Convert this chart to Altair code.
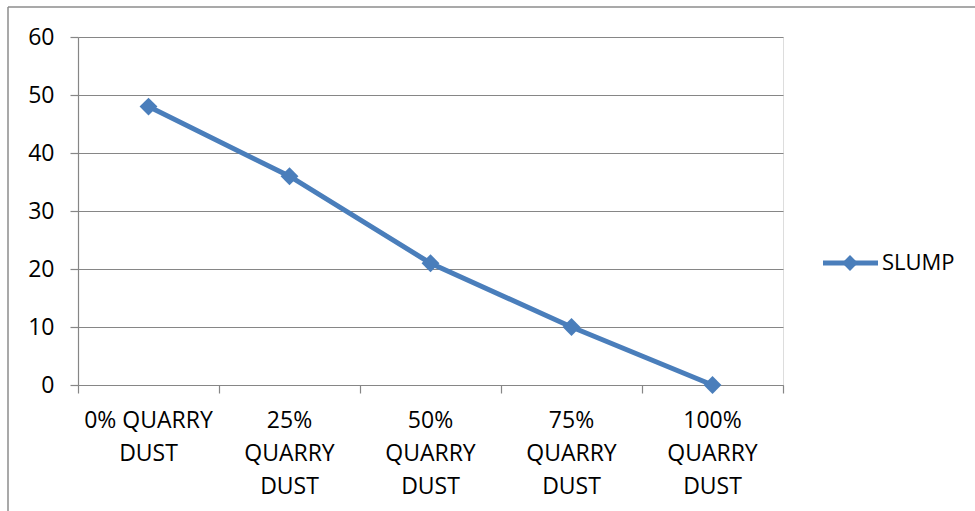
import altair as alt
import pandas as pd

# Slump test results for each quarry-dust replacement level
categories = ["0% QUARRY\nDUST", "25%\nQUARRY\nDUST", "50%\nQUARRY\nDUST",
              "75%\nQUARRY\nDUST", "100%\nQUARRY\nDUST"]
slump = [48, 36, 21, 10, 0]
series_name = "SLUMP"
y_ticks = [0, 10, 20, 30, 40, 50, 60]

FONT = "Open Sans"
BLUE = "#4A7EBB"
GRID = "#868686"

W, H = 705, 348
LEFT, TOP = 78, 37

df = pd.DataFrame({"pos": list(range(len(categories))),
                   "label": categories, "slump": slump})

n = len(categories)
x_scale = alt.Scale(domain=[-0.5, n - 0.5], nice=False, zero=False)
y_scale = alt.Scale(domain=[0, 60], nice=False)

# boundaries between categories carry the x tick marks
boundaries = [i - 0.5 for i in range(n + 1)]

base = alt.Chart(df)

line = base.mark_line(color=BLUE, strokeWidth=5).encode(
    x=alt.X("pos:Q", scale=x_scale,
            axis=alt.Axis(values=boundaries, labels=False, grid=False, title=None,
                          tickSize=8, tickColor=GRID, domainColor=GRID,
                          tickWidth=1.2, domainWidth=1.2)),
    y=alt.Y("slump:Q", scale=y_scale,
            axis=alt.Axis(values=y_ticks, title=None, grid=True, gridColor=GRID,
                          gridWidth=1.2, tickWidth=1.2, domainWidth=1.2,
                          tickSize=8, tickColor=GRID, domainColor=GRID,
                          labelFont=FONT, labelFontSize=23, labelColor="#000000",
                          labelPadding=16)),
)

points = base.mark_point(shape="diamond", filled=True, size=320, opacity=1,
                         color=BLUE).encode(x=alt.X("pos:Q", scale=x_scale),
                                            y=alt.Y("slump:Q", scale=y_scale))

cat_labels = base.mark_text(font=FONT, fontSize=23, lineBreak="\n", lineHeight=33,
                            align="center", baseline="alphabetic",
                            color="#000000").encode(
    x=alt.X("pos:Q", scale=x_scale),
    y=alt.value(H + 43),
    text="label:N",
)

# legend: line sample with a diamond, then the series name
leg_df = pd.DataFrame({"name": [series_name]})
leg = alt.Chart(leg_df)
leg_line = leg.mark_rule(color=BLUE, strokeWidth=5).encode(
    x=alt.value(W + 40), x2=alt.value(W + 95), y=alt.value(226))
leg_point = leg.mark_point(shape="diamond", filled=True, size=250, opacity=1,
                           color=BLUE).encode(x=alt.value(W + 67), y=alt.value(226))
leg_text = leg.mark_text(font=FONT, fontSize=22, align="left", baseline="middle",
                         color="#000000").encode(
    x=alt.value(W + 99), y=alt.value(226), text="name:N")

# outer chart frame (left and top edges)
frame_left = leg.mark_rule(color="#8c8c8c", strokeWidth=1.5).encode(
    x=alt.value(8 - LEFT), y=alt.value(7 - TOP), y2=alt.value(511 - TOP + 5))
frame_top = leg.mark_rule(color="#8c8c8c", strokeWidth=1.5).encode(
    x=alt.value(8 - LEFT), x2=alt.value(975 - LEFT + 5), y=alt.value(7 - TOP))

chart = alt.layer(
    frame_left, frame_top, line, points, cat_labels, leg_line, leg_point, leg_text
).properties(
    width=W, height=H,
    autosize=alt.AutoSizeParams(type="none"),
    padding={"left": LEFT, "top": TOP, "right": 975 - LEFT - W, "bottom": 511 - TOP - H},
).configure_view(stroke=None).configure(background="#ffffff")

chart.save("out.html", embed_options={"renderer": "svg", "actions": False})
